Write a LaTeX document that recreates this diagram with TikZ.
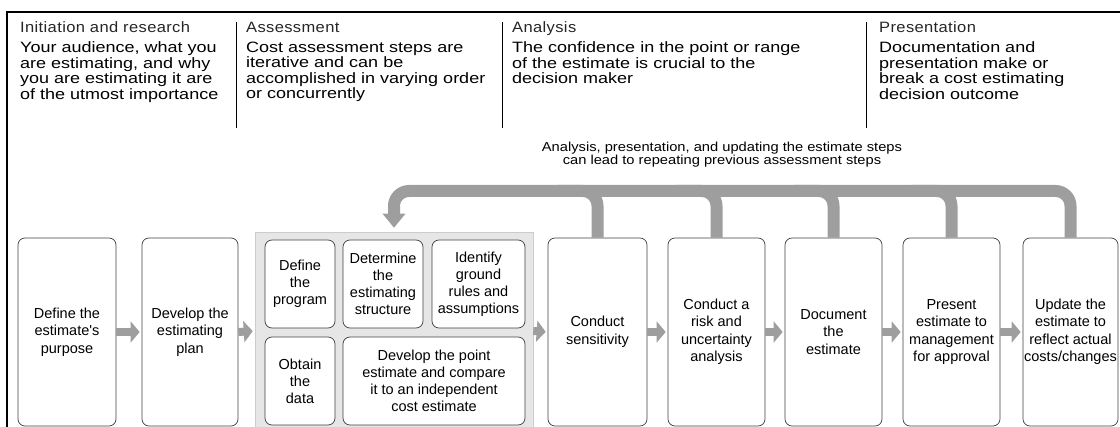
\documentclass[tikz,border=0pt]{standalone}
\usepackage{fontspec}
\setmainfont{Liberation Sans}
\newfontfamily\hdrfont[FakeStretch=1.2]{Liberation Sans}
\newfontfamily\ttlfont[FakeStretch=1.1,LetterSpace=2.5]{Liberation Sans}
\newfontfamily\lblfont[FakeStretch=1.13]{Liberation Sans}
\newfontfamily\bxfont{Liberation Sans}
\usetikzlibrary{arrows.meta,positioning}
\definecolor{arrgray}{RGB}{158,158,158}
\definecolor{grpfill}{RGB}{230,230,230}
\tikzset{
  stepbox/.style={draw=black!75, line width=0.7pt, rounded corners=7pt, fill=white,
    inner sep=1pt, align=center, font=\bxfont\fontsize{14.5}{17.5}\selectfont},
  bigbox/.style={stepbox, minimum height=188pt},
  smallbox/.style={stepbox, minimum height=88pt, font=\bxfont\fontsize{14.5}{17}\selectfont},
  grpbox/.style={draw=black!20, line width=0.5pt, fill=grpfill, inner sep=0pt},
  blockarr/.style={draw=arrgray, line width=8pt, -{Triangle[width=21pt,length=9pt]}, shorten >=2pt},
  fbarr/.style={draw=arrgray, line width=12pt, rounded corners=15pt},
  ttl/.style={anchor=base west, inner sep=0pt, text=black!85, font=\ttlfont\fontsize{15}{17}\selectfont},
  hdr/.style={anchor=north west, inner sep=0pt, align=left, font=\hdrfont\fontsize{15}{15.6}\selectfont},
  sep/.style={draw=black, line width=0.9pt},
}
\begin{document}
\begin{tikzpicture}[x=1pt,y=-1pt]
\useasboundingbox (0,0) rectangle (1120,427);
% frame
\draw[line width=2.6pt] (7,430) -- (7,12) -- (1121,12);
% header separators
\draw[sep] (236,22) -- (236,128);
\draw[sep] (502,22) -- (502,128);
\draw[sep] (866,22) -- (866,128);
% header titles
\node[ttl] (t1) at (20,33) {Initiation and research};
\node[ttl] (t2) at (246,33) {Assessment};
\node[ttl] (t3) at (512,33) {Analysis};
\node[ttl] (t4) at (879,33) {Presentation};
% header texts
\node[hdr] (h1) at (20,41.5) {Your audience, what you\\are estimating, and why\\you are estimating it are\\of the utmost importance};
\node[hdr] (h2) at (246,41.5) {Cost assessment steps are\\iterative and can be\\accomplished in varying order\\or concurrently};
\node[hdr] (h3) at (512,41.5) {The confidence in the point or range\\of the estimate is crucial to the\\decision maker};
\node[hdr] (h4) at (879,41.5) {Documentation and\\presentation make or\\break a cost estimating\\decision outcome};
% feedback label
\node[align=center, inner sep=0pt, font=\lblfont\fontsize{13}{13}\selectfont] (lbl) at (722,155)
  {Analysis, presentation, and updating the estimate steps\\can lead to repeating previous assessment steps};
% assessment group
\node[grpbox, minimum width=278pt, minimum height=198pt] (grp) at (394,331) {};
% big boxes
\node[bigbox, minimum width=98pt] (b1) at (67,332) {Define the\\estimate's\\purpose};
\node[bigbox, minimum width=96pt] (b2) at (190,332) {Develop the\\estimating\\plan};
\node[bigbox, minimum width=99pt] (b6) at (597.5,332) {Conduct\\sensitivity};
\node[bigbox, minimum width=97pt] (b7) at (716.5,332) {Conduct a\\risk and\\uncertainty\\analysis};
\node[bigbox, minimum width=97pt] (b8) at (833.5,332) {Document\\the\\estimate};
\node[bigbox, minimum width=97pt] (b9) at (951.5,332) {Present\\estimate to\\management\\for approval};
\node[bigbox, minimum width=95pt] (b10) at (1070.5,332) {Update the\\estimate to\\reflect actual\\costs/changes};
% inner boxes
\node[smallbox, minimum width=70pt] (a1) at (300,284) {Define\\the\\program};
\node[smallbox, minimum width=80pt] (a2) at (383,284) {Determine\\the\\estimating\\structure};
\node[smallbox, minimum width=93pt] (a3) at (478.5,284) {Identify\\ground\\rules and\\assumptions};
\node[smallbox, minimum width=70pt] (a4) at (300,381) {Obtain\\the\\data};
\node[smallbox, minimum width=182pt] (a5) at (434,381) {Develop the point\\estimate and compare\\it to an independent\\cost estimate};
% block arrows between steps
\draw[blockarr] (b1.east) -- (b2.west);
\draw[blockarr] (b2.east) -- (grp.west);
\draw[blockarr] (grp.east) -- (b6.west);
\draw[blockarr] (b6.east) -- (b7.west);
\draw[blockarr] (b7.east) -- (b8.west);
\draw[blockarr] (b8.east) -- (b9.west);
\draw[blockarr] (b9.east) -- (b10.west);
% feedback loop
\coordinate (topc) at (0,191);
\draw[fbarr] (b6.north) -- (b6.north |- topc) -- ++(-40,0);
\draw[fbarr] (b7.north) -- (b7.north |- topc) -- ++(-40,0);
\draw[fbarr] (b8.north) -- (b8.north |- topc) -- ++(-40,0);
\draw[fbarr] (b9.north) -- (b9.north |- topc) -- ++(-40,0);
\draw[fbarr, -{Triangle[width=22pt,length=14pt]}, shorten >=4pt]
  (b10.north) -- (b10.north |- topc) -- (grp.north |- topc) -- (grp.north);
\end{tikzpicture}
\end{document}
